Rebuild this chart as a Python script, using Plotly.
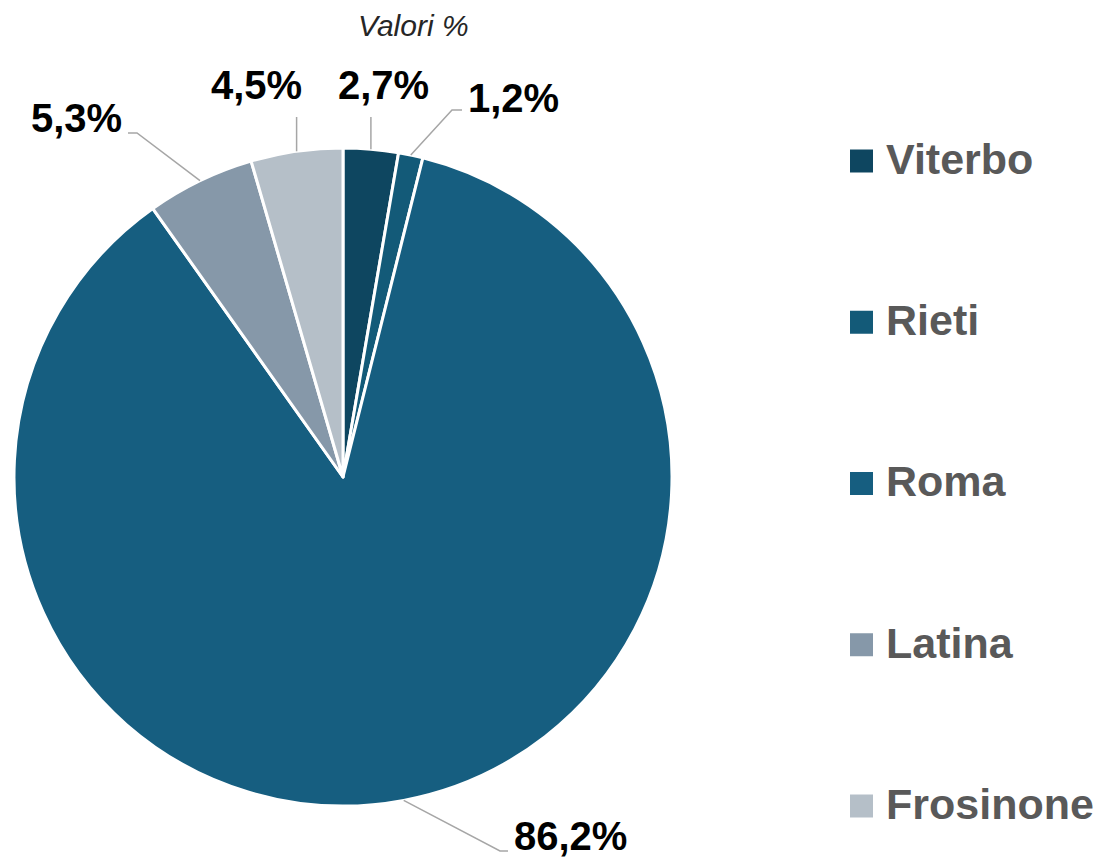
import math
import plotly.graph_objects as go

# ---- data ----
provinces = ["Viterbo", "Rieti", "Roma", "Latina", "Frosinone"]
values = [2.7, 1.2, 86.2, 5.3, 4.5]
value_labels = ["2,7%", "1,2%", "86,2%", "5,3%", "4,5%"]
colors = ["#0e4660", "#135a78", "#165e80", "#8698a9", "#b5bfc8"]
title_text = "Valori %"

# ---- layout constants (pixels, in page coordinates) ----
OFF = 8  # page body margin
W, H = 1096, 850
CX, CY, R = 343, 477, 329

def px(x):
    return (x - OFF) / W

def py(y):
    return 1 - (y - OFF) / H

# label placement: (text x, text y, xanchor, elbow points between edge and text)
label_layout = [
    (383, 85, "center", [(None, 117)]),
    (466, 98, "left", [(452, 110), (462, 110)]),
    (512, 836, "left", [(500, 851), (508, 851)]),
    (76, 118, "center", [(137, 133), (128, 133)]),
    (257, 85, "center", [(None, 117)]),
]

fig = go.Figure()
fig.add_trace(go.Pie(
    labels=provinces,
    values=values,
    sort=False,
    direction="clockwise",
    rotation=0,
    textinfo="none",
    hoverinfo="label+percent",
    marker=dict(colors=colors, line=dict(color="white", width=3)),
    domain=dict(x=[px(CX - R), px(CX + R)], y=[py(CY + R), py(CY - R)]),
    showlegend=False,
))

total = sum(values)
shapes = []
annotations = []
cum = 0.0
for i, v in enumerate(values):
    mid = (cum + v / 2) / total * 2 * math.pi
    cum += v
    ex = CX + R * math.sin(mid)
    ey = CY - R * math.cos(mid)
    tx, ty, xa, elbows = label_layout[i]
    pts = [(ex, ey)]
    for (bx, by) in elbows:
        pts.append((ex if bx is None else bx, by))
    path = "M " + " L ".join(f"{px(a):.5f},{py(b):.5f}" for a, b in pts)
    shapes.append(dict(type="path", path=path, xref="paper", yref="paper",
                       line=dict(color="#a6a6a6", width=1.5)))
    annotations.append(dict(text=f"<b>{value_labels[i]}</b>", x=px(tx), y=py(ty),
                            xref="paper", yref="paper", xanchor=xa, yanchor="middle",
                            showarrow=False,
                            font=dict(family="Liberation Sans, Arial", size=40, color="#000000")))

# legend (manual, matching wide spacing)
leg_y0, leg_step = 161, 161.25
for i, name in enumerate(provinces):
    yc = leg_y0 + i * leg_step
    shapes.append(dict(type="rect", xref="paper", yref="paper",
                       x0=px(850), x1=px(873), y0=py(yc + 11.5), y1=py(yc - 11.5),
                       fillcolor=colors[i], line=dict(width=0)))
    annotations.append(dict(text=f"<b>{name}</b>", x=px(884), y=py(yc - 2),
                            xref="paper", yref="paper", xanchor="left", yanchor="middle",
                            showarrow=False,
                            font=dict(family="Liberation Sans, Arial", size=43, color="#595959")))

annotations.append(dict(text=f"<i>{title_text}</i>", x=px(413), y=1,
                        xref="paper", yref="paper", xanchor="center", yanchor="top",
                        showarrow=False, borderpad=0,
                        font=dict(family="Liberation Sans, Arial", size=30, color="#262626")))

fig.update_layout(
    width=W, height=H,
    margin=dict(l=0, r=0, t=0, b=0),
    paper_bgcolor="white", plot_bgcolor="white",
    shapes=shapes, annotations=annotations,
    showlegend=False,
)

fig.write_html("out.html")
